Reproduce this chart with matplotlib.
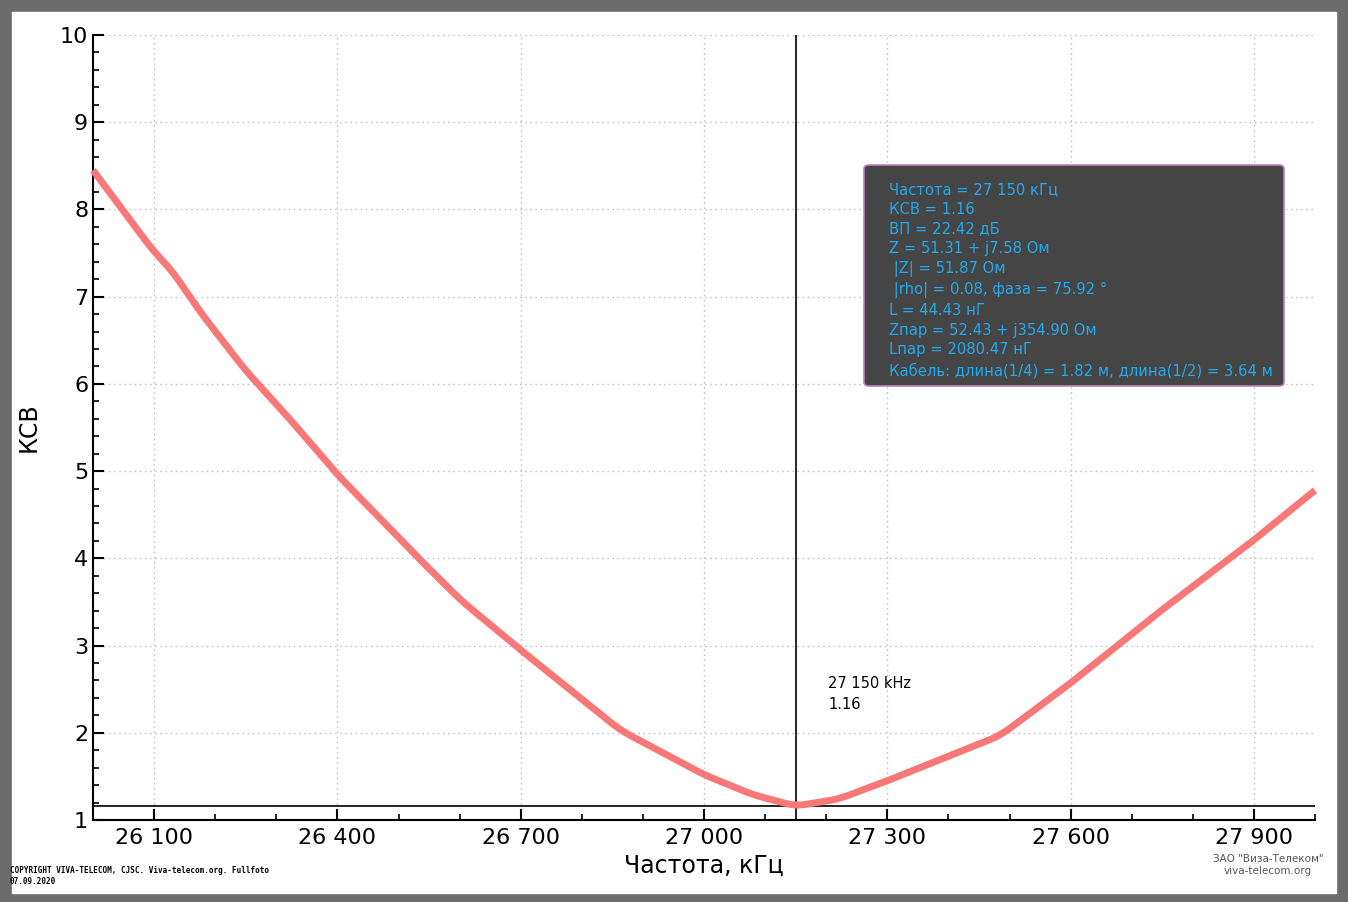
import matplotlib.pyplot as plt
import matplotlib.patches as mpatches
from matplotlib.ticker import MultipleLocator, FuncFormatter
import numpy as np

# data
freq_khz = [26000, 26100, 26126, 26175, 26249, 26323, 26400, 26536, 26602, 26700,
            26863, 27000, 27080, 27150, 27220, 27300, 27485, 27600, 27746, 27900, 28000]
swr = [8.45, 7.51, 7.33, 6.83, 6.16, 5.59, 4.96, 3.98, 3.52, 2.95,
       2.03, 1.52, 1.29, 1.16, 1.24, 1.45, 1.97, 2.57, 3.39, 4.21, 4.78]
marker_freq = 27150
marker_swr = 1.16
info_lines = [
    "Частота = 27 150 кГц",
    "КСВ = 1.16",
    "ВП = 22.42 дБ",
    "Z = 51.31 + j7.58 Ом",
    " |Z| = 51.87 Ом",
    " |rho| = 0.08, фаза = 75.92 °",
    "L = 44.43 нГ",
    "Zпар = 52.43 + j354.90 Ом",
    "Lпар = 2080.47 нГ",
    "Кабель: длина(1/4) = 1.82 м, длина(1/2) = 3.64 м",
]

plt.rcParams['font.family'] = ['DejaVu Sans']
fig = plt.figure(figsize=(13.48, 9.02), dpi=100, facecolor='#6b6b6b')
W, H = 1348, 902
bg = mpatches.Rectangle((12 / W, 1 - 893 / H), 1324 / W, 881 / H,
                        transform=fig.transFigure, color='white', zorder=-10)
fig.patches.append(bg)
ax = fig.add_axes([93 / W, 1 - 820 / H, 1222 / W, 785 / H])
ax.set_facecolor('none')

# light smoothing of the piecewise line through the read points
xs = np.linspace(26000, 28000, 401)
ys = np.interp(xs, freq_khz, swr)
k = np.ones(7) / 7
ys_s = np.convolve(np.pad(ys, 3, mode='reflect', reflect_type='odd'), k, mode='valid')
ax.plot(xs, ys_s, color='#f87878', lw=5, solid_capstyle='butt', clip_on=False, zorder=3)

ax.axvline(marker_freq, color='black', lw=1.2)
ax.axhline(marker_swr, color='black', lw=1.2)

ax.set_xlim(26000, 28000)
ax.set_ylim(1, 10)
ax.set_xticks(np.arange(26100, 28000, 300))
ax.xaxis.set_minor_locator(MultipleLocator(100))
ax.yaxis.set_major_locator(MultipleLocator(1))
ax.yaxis.set_minor_locator(MultipleLocator(0.2))
ax.xaxis.set_major_formatter(FuncFormatter(lambda v, p: f"{int(v):,}".replace(",", " ")))
ax.tick_params(direction='in', which='major', length=8, width=1.5, labelsize=16)
ax.tick_params(direction='in', which='minor', length=4, width=1.2)
ax.tick_params(axis='x', pad=6)
for s in ['top', 'right']:
    ax.spines[s].set_visible(False)
for s in ['left', 'bottom']:
    ax.spines[s].set_linewidth(1.5)
ax.grid(True, which='major', color='#c4c4c4', ls=(0, (1.2, 2.5)), lw=1)
ax.set_xlabel("Частота, кГц", fontsize=17, labelpad=4)
ax.set_ylabel("КСВ", fontsize=17, labelpad=14)

ax.text(27203, 2.45, f"27 150 kHz\n{marker_swr}", fontsize=10.5, va='center', linespacing=1.5)

# info box
box = mpatches.FancyBboxPatch((864 / W, 1 - 386 / H), 420 / W, 221 / H,
                              boxstyle="round,pad=0,rounding_size=0.004",
                              transform=fig.transFigure, fc='#454545', ec='#c080c0',
                              lw=1.2, zorder=5, clip_on=False)
ax.add_patch(box)
ax.text(889 / W, 1 - 182 / H, "\n".join(info_lines), color='#22aaee', fontsize=10.6,
        va='top', linespacing=1.4, zorder=6, transform=fig.transFigure)

fig.text(10 / W, 1 - 876 / H, "COPYRIGHT VIVA-TELECOM, CJSC. Viva-telecom.org. Fullfoto\n07.09.2020",
         fontsize=5.5, family='DejaVu Sans Mono', fontweight='bold', va='center', linespacing=1.3)
fig.text(1268 / W, 1 - 865 / H, "ЗАО \"Виза-Телеком\"\nviva-telecom.org",
         fontsize=7.5, color='#555555', ha='center', va='center')

fig.savefig("out.png", dpi=100, facecolor=fig.get_facecolor())
